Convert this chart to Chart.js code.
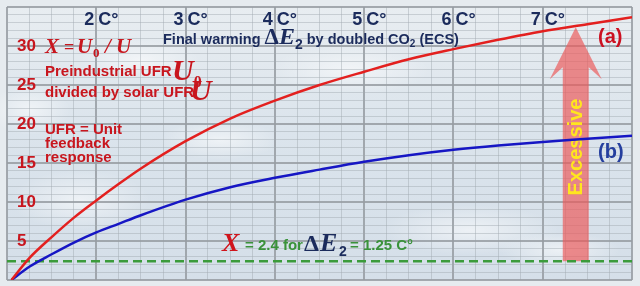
<!DOCTYPE html>
<html><head><meta charset="utf-8">
<script src="https://cdn.jsdelivr.net/npm/chart.js@4"></script>
<style>
html,body{margin:0;padding:0;background:#e5eaef;overflow:hidden}
#wrap{width:640px;height:286px;position:relative}
canvas{display:block}
</style>
</head><body><div id="wrap"><canvas id="c" width="640" height="286"></canvas></div>
<script>
// ---- data ----
const ecsX    = [1.05, 1.25, 1.5, 1.75, 2, 2.25, 2.5, 3, 3.5, 4, 4.5, 5, 5.5, 6, 6.5, 7, 7.5, 8];
const seriesA = [0, 2.8, 5.5, 8.0, 10.2, 12.3, 14.3, 17.8, 20.7, 23.0, 25.0, 26.7, 28.3, 29.6, 30.8, 31.9, 32.8, 33.7];
const seriesB = [0, 1.7, 3.3, 4.8, 6.1, 7.2, 8.3, 10.3, 11.9, 13.1, 14.15, 15.15, 16.0, 16.7, 17.25, 17.7, 18.1, 18.5];
const thresholdX = 2.4;                 // X = 2.4 for dE2 = 1.25 C°
const thresholdRange = [1, 8];
const topTicks = [2, 3, 4, 5, 6, 7];    // C° labels on top
const yLabelTicks = [5, 10, 15, 20, 25, 30];
const arrowAt = 7.37, arrowFrom = 2.4, arrowTo = 32.4;

const SANS = '"Liberation Sans", Arial, sans-serif';
const SERIF = '"Liberation Serif", "Times New Roman", serif';
const RED_T = '#c8161e', NAVY = '#1b2b5c', GREEN = '#3a923a';

function runs(ctx, x, y, items) {
  let cx = x;
  for (const it of items) {
    ctx.font = it.f; ctx.fillStyle = it.c;
    if (it.x !== undefined) cx = it.x;
    ctx.fillText(it.t, cx, y + (it.dy || 0));
    cx += ctx.measureText(it.t).width;
  }
}

const bgPlugin = {
  id: 'bg',
  beforeDraw(chart) {
    const {ctx, chartArea: a, width, height} = chart;
    ctx.save();
    ctx.fillStyle = '#e6ebef';
    ctx.fillRect(0, 0, width, height);
    const g = ctx.createLinearGradient(0, a.top, 0, a.bottom);
    g.addColorStop(0, '#e8edf1');
    g.addColorStop(0.45, '#dbe4ec');
    g.addColorStop(1, '#d5dfe9');
    ctx.fillStyle = g;
    ctx.fillRect(a.left, a.top, a.right - a.left, a.bottom - a.top);
    const clouds = [[80,200,70,30],[220,140,60,20],[470,230,90,25],[350,70,80,25],[560,250,60,18],[140,60,60,20],[30,110,40,25]];
    for (const [cx, cy, rx, ry] of clouds) {
      ctx.save();
      ctx.translate(cx, cy); ctx.scale(rx / ry, 1);
      const r = ctx.createRadialGradient(0, 0, 0, 0, 0, ry);
      r.addColorStop(0, 'rgba(255,255,255,0.55)');
      r.addColorStop(1, 'rgba(255,255,255,0)');
      ctx.fillStyle = r;
      ctx.beginPath(); ctx.arc(0, 0, ry, 0, Math.PI * 2); ctx.fill();
      ctx.restore();
    }
    ctx.restore();
  },
  beforeDatasetsDraw(chart) {
    const {ctx, scales: {x, y}} = chart;
    const cx = x.getPixelForValue(arrowAt);
    const yb = y.getPixelForValue(arrowFrom);
    const yt = y.getPixelForValue(arrowTo);
    const sw = 13, hw = 26, hl = 52, join = 40;
    ctx.save();
    ctx.fillStyle = 'rgba(236,88,88,0.68)';
    ctx.beginPath();
    ctx.moveTo(cx, yt);
    ctx.lineTo(cx + hw, yt + hl);
    ctx.lineTo(cx + sw, yt + join);
    ctx.lineTo(cx + sw, yb);
    ctx.lineTo(cx - sw, yb);
    ctx.lineTo(cx - sw, yt + join);
    ctx.lineTo(cx - hw, yt + hl);
    ctx.closePath();
    ctx.fill();
    ctx.translate(cx, 147);
    ctx.rotate(-Math.PI / 2);
    ctx.font = 'bold 20px ' + SANS;
    ctx.fillStyle = '#ffe61e';
    ctx.textAlign = 'center'; ctx.textBaseline = 'middle';
    ctx.fillText('Excessive', 0, 1);
    ctx.restore();
  }
};

const annotPlugin = {
  id: 'annot',
  afterDatasetsDraw(chart) {
    const {ctx, scales: {x}} = chart;
    ctx.save();
    ctx.textBaseline = 'alphabetic';
    // top C° labels
    ctx.font = 'bold 18px ' + SANS; ctx.fillStyle = NAVY;
    for (const v of topTicks) {
      const px = x.getPixelForValue(v);
      ctx.textAlign = 'right'; ctx.fillText(String(v), px - 2, 25);
      ctx.textAlign = 'left'; ctx.fillText('C°', px + 2, 25);
    }
    ctx.textAlign = 'left';
    // title
    runs(ctx, 163, 44, [
      {t: 'Final warming ', f: 'bold 14.5px ' + SANS, c: NAVY},
      {t: 'Δ', f: 'bold 23px ' + SERIF, c: NAVY},
      {t: 'E', f: 'italic bold 24px ' + SERIF, c: NAVY},
      {t: '2', f: 'bold 14px ' + SANS, c: NAVY, dy: 5},
      {t: ' by doubled CO', f: 'bold 14.5px ' + SANS, c: NAVY},
      {t: '2', f: 'bold 10px ' + SANS, c: NAVY, dy: 3},
      {t: ' (ECS)', f: 'bold 14.5px ' + SANS, c: NAVY}
    ]);
    // left texts
    const IB = 'italic bold 21px ' + SERIF;
    runs(ctx, 45, 53, [
      {t: 'X', f: IB, c: RED_T, x: 45},
      {t: '=', f: 'bold 18px ' + SERIF, c: RED_T, x: 64},
      {t: 'U', f: IB, c: RED_T, x: 77},
      {t: '0', f: 'bold 13px ' + SERIF, c: RED_T, x: 93, dy: 4},
      {t: '/', f: IB, c: RED_T, x: 105},
      {t: 'U', f: IB, c: RED_T, x: 116}
    ]);
    ctx.font = 'bold 15px ' + SANS; ctx.fillStyle = RED_T;
    ctx.fillText('Preindustrial UFR', 45, 76);
    ctx.fillText('divided by solar UFR', 45, 97);
    ctx.fillText('UFR = Unit', 45, 134);
    ctx.fillText('feedback', 45, 148);
    ctx.fillText('response', 45, 162);
    runs(ctx, 172, 80, [
      {t: 'U', f: 'italic bold 30px ' + SERIF, c: RED_T},
      {t: '0', f: 'bold 16px ' + SERIF, c: RED_T, dy: 7}
    ]);
    runs(ctx, 190, 100, [{t: 'U', f: 'italic bold 30px ' + SERIF, c: RED_T}]);
    // series labels
    ctx.font = 'bold 20px ' + SANS;
    ctx.fillStyle = '#cc1020'; ctx.fillText('(a)', 598, 43);
    ctx.fillStyle = '#253f9e'; ctx.fillText('(b)', 598, 158);
    // threshold annotation
    runs(ctx, 222, 251, [
      {t: 'X', f: 'italic bold 26px ' + SERIF, c: '#d0141c', x: 222},
      {t: '= 2.4 for', f: 'bold 15px ' + SANS, c: GREEN, x: 245, dy: -1},
      {t: 'Δ', f: 'bold 24px ' + SERIF, c: NAVY, x: 304},
      {t: 'E', f: 'italic bold 26px ' + SERIF, c: NAVY, x: 320},
      {t: '2', f: 'bold 14px ' + SANS, c: NAVY, x: 339, dy: 5},
      {t: '= 1.25 C°', f: 'bold 15px ' + SANS, c: GREEN, x: 350, dy: -1}
    ]);
    ctx.restore();
  }
};

const toPts = (ys) => ecsX.map((xv, i) => ({x: xv, y: ys[i]}));

new Chart(document.getElementById('c').getContext('2d'), {
  type: 'line',
  data: {
    datasets: [
      {label: '(a)', data: toPts(seriesA), borderColor: '#e3201f', borderWidth: 2.5,
       pointRadius: 0, cubicInterpolationMode: 'monotone', fill: false},
      {label: '(b)', data: toPts(seriesB), borderColor: '#1616c4', borderWidth: 2.5,
       pointRadius: 0, cubicInterpolationMode: 'monotone', fill: false},
      {label: 'X = 2.4', data: thresholdRange.map(v => ({x: v, y: thresholdX})),
       borderColor: '#3b9b3b', borderWidth: 2.5, borderDash: [9, 5], pointRadius: 0, fill: false}
    ]
  },
  options: {
    responsive: false, animation: false, devicePixelRatio: 1,
    layout: {padding: {left: 7, right: 8, top: 7, bottom: 6}},
    plugins: {legend: {display: false}, tooltip: {enabled: false}},
    scales: {
      x: {
        type: 'linear', min: 1, max: 8,
        afterFit(s) { s.height = 0; s.paddingLeft = 0; s.paddingRight = 0; s.paddingTop = 0; s.paddingBottom = 0; },
        ticks: {display: false, stepSize: 0.25, autoSkip: false},
        grid: {
          drawTicks: false,
          color: c => (c.tick && c.tick.value % 1 === 0) ? 'rgba(150,156,162,0.85)' : 'rgba(160,168,176,0.45)',
          lineWidth: c => (c.tick && c.tick.value % 1 === 0) ? 2 : 1
        },
        border: {display: false}
      },
      y: {
        min: 0, max: 35,
        afterFit(s) { s.width = 0; s.paddingTop = 0; s.paddingBottom = 0; s.paddingLeft = 0; s.paddingRight = 0; },
        ticks: {
          stepSize: 1, autoSkip: false, mirror: true, padding: 10,
          color: RED_T, font: {family: SANS, weight: 'bold', size: 17},
          callback: v => yLabelTicks.includes(v) ? String(v) : ''
        },
        grid: {
          drawTicks: false,
          color: c => (c.tick && c.tick.value % 5 === 0) ? 'rgba(150,156,162,0.85)' : 'rgba(160,168,176,0.45)',
          lineWidth: c => (c.tick && c.tick.value % 5 === 0) ? 2 : 1
        },
        border: {display: false}
      }
    }
  },
  plugins: [bgPlugin, annotPlugin]
});
</script>
</body></html>
